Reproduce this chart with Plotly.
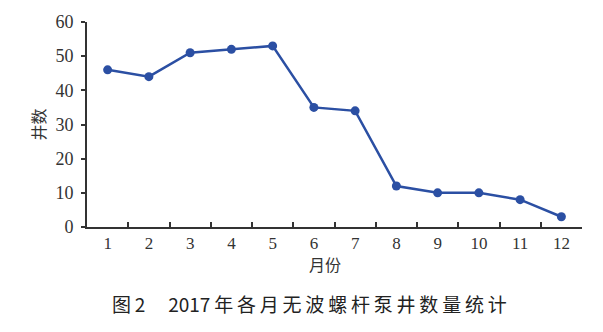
import plotly.graph_objects as go

months = ["1", "2", "3", "4", "5", "6", "7", "8", "9", "10", "11", "12"]
wells = [46, 44, 51, 52, 53, 35, 34, 12, 10, 10, 8, 3]
y_ticks = [0, 10, 20, 30, 40, 50, 60]

color = "#2b4fa3"
axis_col = "#333333"
serif = "Liberation Serif"

fig = go.Figure()
fig.add_trace(go.Scatter(
    x=months, y=wells, mode="lines+markers",
    line=dict(color=color, width=2.5),
    marker=dict(color=color, size=9),
    showlegend=False, cliponaxis=False,
))

L, R, T, B = 87, 21, 19, 105
pw = 603 - L - R
ph = 332 - T - B


def px(x, y):
    return (x - L) / pw, (332 - B - y) / ph


ax1, ay1 = px(325, 265)
ax2, ay2 = px(37, 123)
ax3, ay3 = px(309, 305)

fig.update_layout(
    width=603, height=332,
    margin=dict(l=L, r=R, t=T, b=B),
    paper_bgcolor="white", plot_bgcolor="white",
    font=dict(family=serif, size=16, color="#333333"),
    xaxis=dict(
        type="category", tickson="boundaries", ticks="inside", ticklen=5,
        tickcolor=axis_col, tickwidth=1.5,
        showline=True, linecolor=axis_col, linewidth=2,
        showgrid=False, zeroline=False,
        tickfont=dict(family=serif, size=17, color="#333"),
        range=[-0.5, 11.5],
    ),
    yaxis=dict(
        range=[0, 60], tickvals=y_ticks, ticks="outside", ticklen=4,
        tickcolor=axis_col, tickwidth=1.5,
        showline=True, linecolor=axis_col, linewidth=2,
        showgrid=False, zeroline=False,
        tickfont=dict(family=serif, size=18, color="#333"),
        ticklabelstandoff=4,
    ),
    annotations=[
        dict(text="月份", x=ax1, y=ay1, xref="paper", yref="paper",
             xanchor="center", yanchor="middle", showarrow=False,
             font=dict(family="Noto Sans CJK SC", size=16, color="#333")),
        dict(text="井数", x=ax2, y=ay2, xref="paper", yref="paper", textangle=-90,
             xanchor="center", yanchor="middle", showarrow=False,
             font=dict(family="Noto Sans CJK SC", size=16, color="#333")),
        dict(text="图\u20092\u2003\u20092017\u2009年\u2009各\u2009月\u2009无\u2009波\u2009螺\u2009杆\u2009泵\u2009井\u2009数\u2009量\u2009统\u2009计",
             x=ax3, y=ay3, xref="paper", yref="paper",
             xanchor="center", yanchor="middle", showarrow=False,
             font=dict(family="Noto Sans CJK SC", size=19, color="#222")),
    ],
)

fig.write_html("out.html")
